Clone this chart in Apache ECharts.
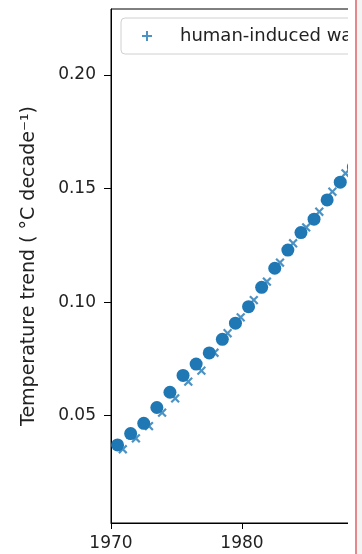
<!DOCTYPE html>
<html>
<head>
<meta charset="utf-8">
<script src="https://cdn.jsdelivr.net/npm/echarts@6/dist/echarts.min.js"></script>
<style>
  html, body { margin: 0; padding: 0; background: #fff; overflow: hidden; }
  #chart { position: absolute; left: 0; top: 0; width: 348px; height: 554px; }
  #edge { position: absolute; left: 355px; top: 0; width: 2px; height: 554px; background: #e8878b; }
  #strip { position: absolute; left: 357px; top: 0; width: 5px; height: 554px; background: #f4f4f4; }
</style>
</head>
<body>
<div id="chart"></div>
<div id="edge"></div>
<div id="strip"></div>
<script>
// values
var circleYears = [1970.5, 1971.5, 1972.5, 1973.5, 1974.5, 1975.5, 1976.5, 1977.5, 1978.5, 1979.5,
  1980.5, 1981.5, 1982.5, 1983.5, 1984.5, 1985.5, 1986.5, 1987.5, 1988.5];
var circleTrend = [0.0371, 0.0421, 0.0466, 0.0536, 0.0603, 0.0677, 0.0727, 0.0776, 0.0836, 0.0907,
  0.0980, 0.1065, 0.1149, 0.1229, 0.1306, 0.1365, 0.1450, 0.1528, 0.1595];

var crossYears = [1969.9, 1970.9, 1971.9, 1972.9, 1973.9, 1974.9, 1975.9, 1976.9, 1977.9, 1978.9,
  1979.9, 1980.9, 1981.9, 1982.9, 1983.9, 1984.9, 1985.9, 1986.9, 1987.9, 1988.9];
var crossTrend = [0.0334, 0.0352, 0.0400, 0.0454, 0.0513, 0.0576, 0.0650, 0.0698, 0.0777, 0.0863,
  0.0933, 0.1009, 0.1090, 0.1174, 0.1259, 0.1329, 0.1398, 0.1486, 0.1567, 0.1640];

// "+" markers sit under the circles
var humanYears = circleYears;
var humanTrend = circleTrend;

var yTicks = [0.05, 0.10, 0.15, 0.20];
var xTicks = [1970, 1980, 1990, 2000];

var blue = "#1f77b4";
var font = "DejaVu Sans";
var plusPath = "path://M4,0h2v4h4v2h-4v4h-2v-4h-4v-2h4z";

function pairs(xs, ys) {
  var out = [];
  for (var i = 0; i < xs.length; i++) out.push([xs[i], ys[i]]);
  return out;
}

var myChart = echarts.init(document.getElementById("chart"));
var option = {
  animation: false,
  textStyle: { fontFamily: font },
  grid: {
    left: 111,
    top: 9,
    width: 393,
    height: 514,
    outerBoundsMode: "none",
    containLabel: false,
    show: true,
    borderColor: "#000",
    borderWidth: 1,
    backgroundColor: "transparent"
  },
  legend: {
    left: 121,
    top: 18,
    padding: [9, 10, 9, 21],
    itemWidth: 56,
    itemHeight: 10,
    borderColor: "#d0d0d0",
    borderWidth: 1,
    borderRadius: 4,
    backgroundColor: "#fff",
    textStyle: { color: "#222", fontSize: 18, fontFamily: font },
    data: [{ name: "human-induced warming", icon: plusPath }]
  },
  xAxis: {
    type: "value",
    min: 1970,
    max: 2000,
    splitLine: { show: false },
    axisLine: { lineStyle: { color: "#000", width: 1 } },
    axisTick: { length: 6, customValues: xTicks, lineStyle: { color: "#000" } },
    axisLabel: {
      customValues: xTicks,
      color: "#222",
      fontSize: 17,
      margin: 12,
      fontFamily: font,
      formatter: function (v) { return String(v); }
    }
  },
  yAxis: {
    type: "value",
    min: 0.00273,
    max: 0.22906,
    name: "Temperature trend ( °C decade⁻¹)",
    nameLocation: "middle",
    nameGap: 72,
    nameTextStyle: { color: "#222", fontSize: 19, fontFamily: font },
    splitLine: { show: false },
    axisLine: { lineStyle: { color: "#000", width: 1 } },
    axisTick: { length: 7, customValues: yTicks, lineStyle: { color: "#000" } },
    axisLabel: {
      customValues: yTicks,
      color: "#222",
      fontSize: 17,
      margin: 15,
      fontFamily: font,
      formatter: function (v) { return v.toFixed(2); }
    }
  },
  series: [
    {
      name: "human-induced warming",
      type: "scatter",
      symbol: plusPath,
      symbolSize: 10,
      itemStyle: { color: blue },
      data: pairs(humanYears, humanTrend)
    },
    {
      name: "cross",
      type: "scatter",
      symbol: plusPath,
      symbolSize: 11,
      symbolRotate: 45,
      itemStyle: { color: blue },
      data: pairs(crossYears, crossTrend)
    },
    {
      name: "circle",
      type: "scatter",
      symbol: "circle",
      symbolSize: 13,
      itemStyle: { color: blue, opacity: 1 },
      data: pairs(circleYears, circleTrend)
    }
  ]
};
myChart.setOption(option);
</script>
</body>
</html>
